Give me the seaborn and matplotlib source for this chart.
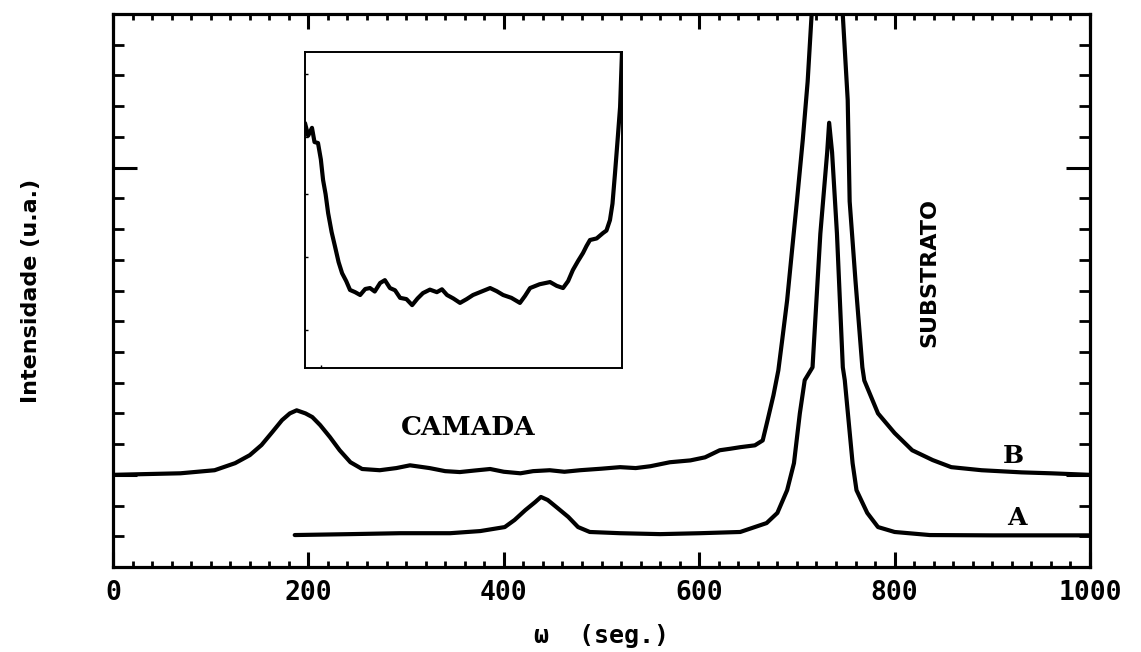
import matplotlib
matplotlib.use("Agg")
import matplotlib.pyplot as plt
import seaborn as sns
import pandas as pd
from matplotlib.ticker import MultipleLocator

# ---------------- data ----------------
b_x = [0, 69, 104, 125, 140, 152, 163, 173, 181, 188, 197, 204, 212, 222, 232,
       243, 255, 273, 290, 304, 324, 340, 355, 370, 386, 400, 417, 430, 447, 462,
       478, 500, 519, 535, 550, 570, 591, 606, 621, 632, 642, 657, 665, 670, 676,
       681, 685, 690, 695, 700, 706, 711, 715, 731, 747, 752, 754, 760, 767, 769,
       783, 800, 818, 839, 858, 889, 930, 960, 1000]
b_y = [0.0, 0.05, 0.15, 0.38, 0.64, 0.97, 1.39, 1.78, 2.0, 2.1, 2.0, 1.88, 1.62,
       1.23, 0.8, 0.41, 0.19, 0.15, 0.22, 0.31, 0.22, 0.12, 0.09, 0.14, 0.19,
       0.1, 0.05, 0.12, 0.15, 0.1, 0.15, 0.2, 0.25, 0.22, 0.28, 0.41, 0.47, 0.57,
       0.8, 0.85, 0.9, 0.96, 1.12, 1.78, 2.59, 3.4, 4.4, 5.68, 7.3, 8.9, 10.9,
       12.8, 14.95, 22.0, 14.95, 12.2, 8.9, 6.3, 3.5, 3.07, 2.0, 1.36, 0.8, 0.48,
       0.25, 0.15, 0.08, 0.05, 0.0]

a_x = [186, 243, 294, 345, 376, 401, 411, 422, 432, 438, 445, 455, 466, 476,
       488, 519, 560, 601, 642, 669, 680, 690, 697, 703, 708, 716, 724, 731, 733,
       736, 741, 747, 749, 757, 761, 772, 783, 800, 836, 900, 1000]
a_y = [-1.96, -1.93, -1.9, -1.9, -1.83, -1.7, -1.47, -1.15, -0.89, -0.72, -0.82,
       -1.08, -1.37, -1.7, -1.86, -1.9, -1.93, -1.9, -1.86, -1.57, -1.24, -0.5,
       0.38, 2.0, 3.08, 3.5, 7.85, 10.5, 11.46, 10.5, 7.85, 3.5, 3.08, 0.38,
       -0.5, -1.24, -1.7, -1.86, -1.96, -1.97, -1.97]

ins_x = [0, 1.0, 2.2, 3.0, 4.1, 5.0, 5.7, 6.5, 7.3, 8.4, 9.5, 10.6, 11.7, 13.0,
         14.2, 15.8, 17.4, 19.0, 20.5, 22.0, 23.7, 25.2, 26.8, 28.4, 30.0, 32.0,
         33.8, 35.5, 37.2, 39.4, 41.6, 43.2, 44.8, 46.8, 48.9, 51.0, 53.0, 55.7,
         58.4, 60.5, 62.5, 65.1, 67.8, 69.4, 71.0, 74.0, 77.3, 79.4, 81.4, 83.0,
         84.5, 86.1, 87.7, 88.8, 89.9, 92.0, 94.0, 95.1, 96.2, 97.0, 97.8, 98.6,
         99.4, 100.0]
ins_y = [77.5, 73.5, 76.0, 71.5, 71.2, 66.0, 59.5, 55.0, 49.0, 43.0, 38.3, 33.5,
         30.0, 27.5, 24.7, 24.0, 23.1, 25.0, 25.3, 24.2, 26.9, 27.8, 25.3, 24.6,
         22.2, 21.8, 19.9, 22.0, 23.7, 24.8, 24.0, 24.9, 23.1, 22.0, 20.6, 21.8,
         23.1, 24.2, 25.3, 24.3, 23.1, 22.2, 20.6, 22.8, 25.3, 26.5, 27.2, 26.0,
         25.3, 27.5, 31.0, 33.8, 36.4, 38.6, 40.5, 41.0, 42.7, 43.5, 46.8, 52.0,
         61.7, 72.0, 82.6, 100.0]

x_ticks = [0, 200, 400, 600, 800, 1000]
x_tick_labels = ["0", "200", "400", "600", "800", "1000"]

# ---------------- style ----------------
sns.set_theme(style="ticks")
plt.rcParams["font.family"] = ["DejaVu Sans", "DejaVu Sans Mono"]
plt.rcParams["axes.linewidth"] = 2.3
for k in ["text.color", "axes.labelcolor", "xtick.color", "ytick.color",
          "axes.edgecolor"]:
    plt.rcParams[k] = "black"

narrow = ["Liberation Sans Narrow", "DejaVu Sans Condensed", "DejaVu Sans"]

fig = plt.figure(figsize=(11.41, 6.52), dpi=100)
ax = fig.add_axes([113 / 1141, 1 - 567 / 652, 977 / 1141, 553 / 652])

df_b = pd.DataFrame({"w": b_x, "I": b_y})
df_a = pd.DataFrame({"w": a_x, "I": a_y})
sns.lineplot(data=df_b, x="w", y="I", sort=False, color="black", lw=3.0, ax=ax,
             estimator=None)
sns.lineplot(data=df_a, x="w", y="I", sort=False, color="black", lw=3.0, ax=ax,
             estimator=None)

ax.set_xlim(0, 1000)
ax.set_ylim(-3, 15)
ax.set_xticks(x_ticks)
ax.set_xticklabels(x_tick_labels, family="DejaVu Sans Mono", fontweight="bold",
                   fontsize=19)
ax.xaxis.set_minor_locator(MultipleLocator(20))
ax.set_yticks([0, 10])
ax.set_yticklabels([])
ax.yaxis.set_minor_locator(MultipleLocator(1))
ax.tick_params(axis="x", which="major", direction="in", length=11, width=2.2,
               top=True, bottom=True, pad=9)
ax.tick_params(axis="x", which="minor", direction="in", length=4, width=2.0,
               top=True, bottom=True)
ax.tick_params(axis="y", which="major", direction="in", length=17, width=2.2,
               left=True, right=True)
ax.tick_params(axis="y", which="minor", direction="in", length=8, width=2.0,
               left=True, right=True)
for s in ax.spines.values():
    s.set_visible(True)
    s.set_color("black")

ax.set_xlabel("ω  (seg.)", family="DejaVu Sans Mono", fontweight="bold",
              fontsize=18, labelpad=13)
ax.set_ylabel("Intensidade (u.a.)", family=narrow, fontweight="bold",
              fontsize=16, labelpad=48)

ax.text(295, 1.55, "CAMADA", family="DejaVu Serif", fontweight="bold",
        fontsize=19, ha="left", va="center")
ax.text(922, 0.6, "B", family="DejaVu Serif", fontweight="bold", fontsize=18,
        ha="center", va="center")
ax.text(925, -1.4, "A", family="DejaVu Serif", fontweight="bold", fontsize=18,
        ha="center", va="center")
ax.text(836, 6.6, "SUBSTRATO", family=narrow, fontweight="bold", fontsize=16,
        rotation=90, ha="center", va="center")

# ---------------- inset ----------------
ins = fig.add_axes([305 / 1141, 1 - 368 / 652, 317 / 1141, 316 / 652])
df_i = pd.DataFrame({"w": ins_x, "I": ins_y})
sns.lineplot(data=df_i, x="w", y="I", sort=False, color="black", lw=3.0, ax=ins,
             estimator=None)
ins.set_xlim(0, 100)
ins.set_ylim(0, 100)
ins.set_xlabel("")
ins.set_ylabel("")
ins.set_xticks([5])
ins.set_xticklabels([])
ins.set_yticks([12, 35, 55, 73, 93])
ins.set_yticklabels([])
ins.tick_params(direction="in", length=2, width=1)
for s in ins.spines.values():
    s.set_linewidth(1.4)
    s.set_color("black")

fig.savefig("out.png", dpi=100)
